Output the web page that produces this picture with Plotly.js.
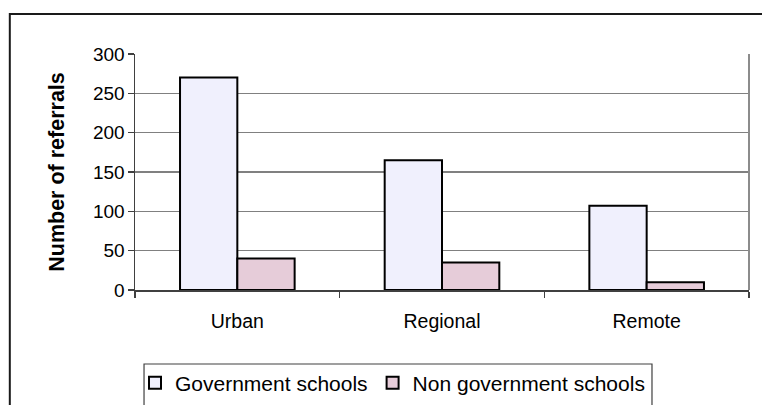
<!DOCTYPE html>
<html>
<head>
<meta charset="utf-8">
<script src="https://cdn.plot.ly/plotly-3.0.1.min.js"></script>
<style>
html,body{margin:0;padding:0;background:#fff;}
#chart{width:762px;height:405px;}
</style>
</head>
<body>
<div id="chart"></div>
<script>
var categories = ["Urban", "Regional", "Remote"];
var seriesNames = ["Government schools", "Non government schools"];
var govValues = [270, 165, 107];
var nonGovValues = [40, 35, 10];
var yTickValues = [0, 50, 100, 150, 200, 250, 300];

var FONT = "Arial, 'Liberation Sans', sans-serif";

var traces = [
  {
    type: "bar", name: seriesNames[0], x: categories, y: govValues,
    marker: {color: "#F0F0FD", line: {color: "#000000", width: 2}},
    hoverinfo: "x+y"
  },
  {
    type: "bar", name: seriesNames[1], x: categories, y: nonGovValues,
    marker: {color: "#E6CCD9", line: {color: "#000000", width: 2}},
    hoverinfo: "x+y"
  }
];

var layout = {
  width: 762, height: 405,
  margin: {l: 135, r: 13, t: 54, b: 115, pad: 0, autoexpand: false},
  paper_bgcolor: "#ffffff", plot_bgcolor: "#ffffff",
  barmode: "group", bargap: 0.44, bargroupgap: 0,
  font: {family: FONT, color: "#000000", size: 18},
  showlegend: true,
  legend: {
    orientation: "h", xref: "paper", yref: "paper",
    x: 0.0, xanchor: "left", y: -0.308, yanchor: "top",
    font: {family: FONT, size: 21, color: "#000000"},
    bgcolor: "rgba(0,0,0,0)", borderwidth: 0,
    itemclick: false, itemdoubleclick: false
  },
  xaxis: {
    type: "category",
    showline: true, linecolor: "#404040", linewidth: 1.5,
    ticks: "outside", tickson: "boundaries", ticklen: 6, tickcolor: "#404040", tickwidth: 1.5,
    ticklabelstandoff: 13,
    tickfont: {family: FONT, size: 19.5, color: "#000000"},
    showgrid: false, zeroline: false, fixedrange: true
  },
  yaxis: {
    range: [0, 300], tickvals: yTickValues, ticktext: yTickValues.map(String),
    showline: true, linecolor: "#404040", linewidth: 1.5,
    ticks: "outside", ticklen: 6, tickcolor: "#404040", tickwidth: 1.5,
    ticklabelstandoff: -1,
    tickfont: {family: FONT, size: 19, color: "#000000"},
    showgrid: true, gridcolor: "#808080", gridwidth: 1.2,
    zeroline: false, fixedrange: true,
    title: {text: "<b>Number of referrals</b>", font: {family: FONT, size: 21.5, color: "#000000"}, standoff: 22}
  },
  shapes: [
    {type: "line", xref: "paper", yref: "paper", x0: 1, x1: 1, y0: 0, y1: 1,
     line: {color: "#8c8c8c", width: 2}},
    {type: "rect", xref: "paper", yref: "paper", x0: 0.0147, x1: 0.842, y0: -0.3136, y1: -1,
     line: {color: "#404040", width: 1.2}, fillcolor: "rgba(0,0,0,0)", layer: "below"},
    {type: "rect", xref: "paper", yref: "paper", x0: -0.2039, x1: 2, y0: -2, y1: 1.1695,
     line: {color: "#1a1a1a", width: 2}, fillcolor: "rgba(0,0,0,0)", layer: "below"}
  ]
};

Plotly.newPlot("chart", traces, layout, {displayModeBar: false, staticPlot: true});
</script>
</body>
</html>
